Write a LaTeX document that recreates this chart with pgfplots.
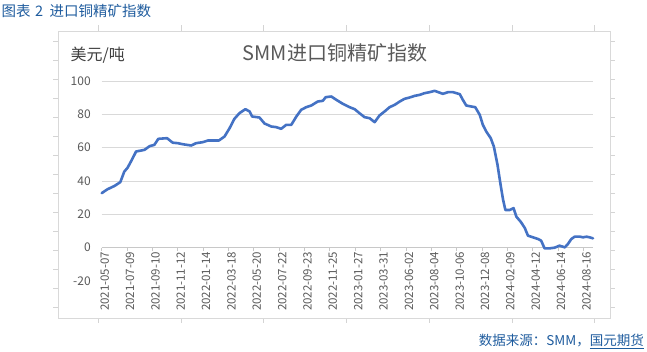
\documentclass[border=0pt]{standalone}
\usepackage{pgfplots}
\pgfplotsset{compat=1.18}
\usepackage{fontspec}
\setmainfont{Noto Sans CJK SC}
\definecolor{lineblue}{HTML}{4472C4}
\definecolor{hdrblue}{HTML}{1F5C9E}
\definecolor{txtgray}{HTML}{595959}
\definecolor{lblgray}{HTML}{404040}
\definecolor{gridgray}{HTML}{D9D9D9}
\definecolor{axisgray}{HTML}{C8C8C8}
\definecolor{cellgray}{HTML}{D4D4D4}
\begin{document}
\begin{tikzpicture}
\useasboundingbox (0pt,0pt) rectangle (647pt,-351pt);
% spreadsheet cell marks
\foreach \xx in {98,181,263,346,429,512,594} {
  \draw[cellgray, line width=0.6pt] (\xx pt,-25pt) -- (\xx pt,-31.5pt);
  \draw[cellgray, line width=0.6pt] (\xx pt,-318pt) -- (\xx pt,-323pt);
}
\foreach \yy in {41.7,60.7,79.7,98.7,117.7,136.7,155.7,174.7,193.7,212.7,231.7,250.7,269.7,288.7,307.7} {
  \draw[cellgray, line width=0.6pt] (53pt,-\yy pt) -- (58.5pt,-\yy pt);
  \draw[cellgray, line width=0.6pt] (610pt,-\yy pt) -- (615pt,-\yy pt);
}
% chart border
\draw[gridgray, line width=0.8pt] (58.5pt,-31.5pt) rectangle (610pt,-318pt);
% header and footer
\node[anchor=west, text=hdrblue, inner sep=0pt, font=\fontsize{14.5}{14.5}\selectfont] at (1.5pt,-10.5pt) {图表\hspace{4.5pt}2\hspace{6.5pt}进口铜精矿指数};
\node[anchor=east, text=hdrblue, inner sep=0pt, font=\fontsize{13.5}{13.5}\selectfont] at (644pt,-341.5pt) {数据来源：SMM，\underline{国元期货}};
% chart title and unit
\node[text=txtgray, inner sep=0pt, font=\fontsize{20}{20}\selectfont] at (335pt,-53pt) {SMM进口铜精矿指数};
\node[anchor=west, text=lblgray, inner sep=0pt, font=\fontsize{16}{16}\selectfont] at (70.5pt,-55pt) {美元/吨};
\begin{axis}[
  at={(101.7pt,-281pt)}, anchor=south west,
  scale only axis, width=491.3pt, height=200pt,
  xmin=0, xmax=174.4, ymin=-20, ymax=100,
  axis x line=middle, axis y line=left,
  axis line style={-},
  x axis line style={draw=axisgray, line width=0.8pt},
  y axis line style={draw=none},
  hide obscured x ticks=false, hide obscured y ticks=false,
  xtick={0,9,...,171},
  xticklabels={2021-05-07,2021-07-09,2021-09-10,2021-11-12,2022-01-14,2022-03-18,2022-05-20,2022-07-22,2022-09-23,2022-11-25,2023-01-27,2023-03-31,2023-06-02,2023-08-04,2023-10-06,2023-12-08,2024-02-09,2024-04-12,2024-06-14,2024-08-16},
  xticklabel style={rotate=90, anchor=east, text=txtgray, font=\fontsize{11.5}{11.5}\selectfont, inner sep=1pt, yshift=-3pt},
  xtick style={draw=axisgray, line width=0.8pt},
  xtick align=outside, major tick length=3pt,
  ytick={0,20,...,100},
  extra y ticks={-20},
  extra y tick style={grid=none},
  ytick style={draw=none},
  yticklabel style={text=txtgray, font=\fontsize{12}{12}\selectfont, anchor=east, xshift=-6pt},
  /pgf/number format/assume math mode=true,
  ymajorgrids,
  grid style={gridgray, line width=0.8pt},
  clip=false,
]
\addplot[lineblue, line width=2.6pt, line join=round, line cap=round] coordinates {
(0,32.7) (2,35) (4.5,37) (6.6,39.3) (8,45.6) (9.2,48) (10.7,52.7) (12.2,57.7)
(15.2,58.7) (17,60.9) (18.7,61.7) (20.1,65.3) (23.2,65.7) (25.2,63) (27,62.7)
(29,62) (31.8,61.3) (33.5,62.7) (35.9,63.3) (37.7,64.3) (41.6,64.3) (43.6,66.7)
(45.4,71.7) (47.1,77.3) (48.9,80.7) (51,83.1) (52.5,81.7) (53.4,78.7) (56,78.1)
(57.8,74.5) (60.2,72.7) (62,72.3) (63.7,71.3) (65.5,73.7) (67.3,73.7) (69.1,78.7)
(70.8,82.7) (72.6,84.3) (74.4,85.3) (76.7,87.7) (78.5,88.1) (79.5,90.3) (81.5,90.7)
(83.3,88.7) (85.6,86.3) (88,84.3) (89.8,83.1) (91.5,80.7) (93.3,78.3) (95.1,77.7)
(96.9,75.3) (98.6,79.3) (100.4,81.7) (102.2,84.3) (104,85.7) (105.8,87.7)
(107.5,89.3) (109.3,90.1) (111.1,91.1) (112.9,91.7) (114.6,92.7) (116.4,93.3)
(118.2,94.1) (121.1,92.3) (122.9,93.3) (124.7,93.3) (127.1,92.1) (128.2,88.7)
(129.4,85.3) (131.2,84.7) (132.6,84.3) (134.2,79.7) (135.3,73.7) (136.5,69.7)
(138.1,65.7) (139.2,60.7) (140.5,49.7) (141.6,37.7) (142.5,28.6) (143.3,22.6)
(144.8,22.6) (146.2,23.7) (147.2,18.6) (148.8,15.4) (150.2,11.8) (151.3,7.2)
(153.1,6.2) (154.9,5.2) (156,4.2) (157.2,-0.4) (159,-0.4) (160.8,0) (162.5,1.2)
(164.4,0.2) (165.5,2.2) (166.7,5.2) (167.9,6.6) (169.7,6.6) (170.9,6.2)
(172.1,6.6) (173.2,6.2) (174.4,5.6)
};
\end{axis}
\end{tikzpicture}
\end{document}
